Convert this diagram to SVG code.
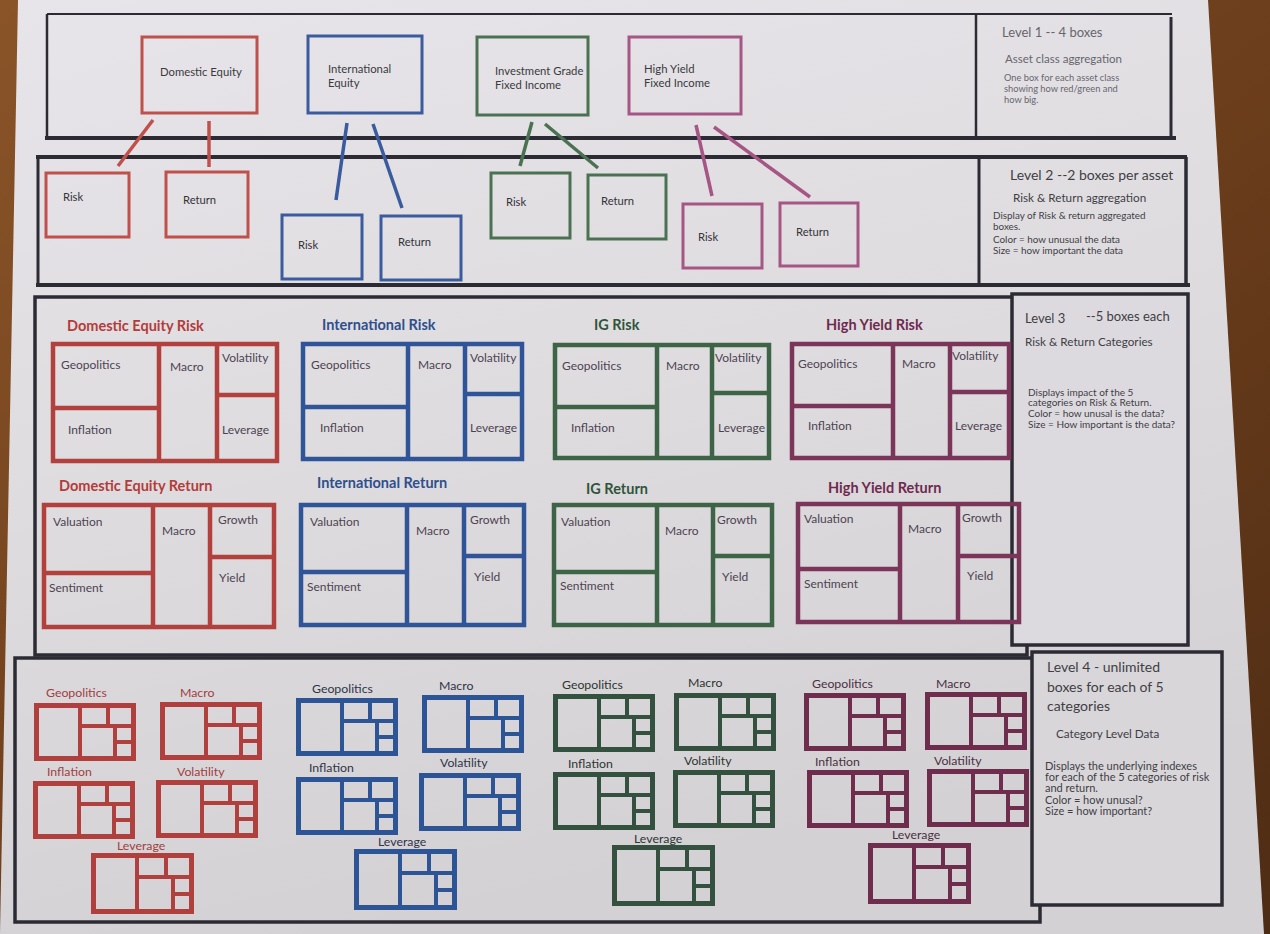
<svg xmlns="http://www.w3.org/2000/svg" xmlns:xlink="http://www.w3.org/1999/xlink" width="1270" height="934" viewBox="0 0 1270 934">
  <defs>
    <linearGradient id="wood" x1="0" y1="0" x2="1" y2="1">
      <stop offset="0" stop-color="#8a5428"/>
      <stop offset="0.5" stop-color="#6e3f1c"/>
      <stop offset="1" stop-color="#4e2c14"/>
    </linearGradient>
    <linearGradient id="paper" x1="0" y1="0" x2="0.3" y2="1">
      <stop offset="0" stop-color="#e7e5e9"/>
      <stop offset="0.5" stop-color="#dfdce0"/>
      <stop offset="1" stop-color="#d4d1d5"/>
    </linearGradient>
    <!-- small treemap used for every level-4 category tile; colour comes from currentColor -->
    <g id="mini" fill="none" stroke="currentColor">
      <rect x="2.5" y="2.5" width="97" height="53" stroke-width="5"/>
      <path d="M46 0V58M46 23H102M74 0V23M81 23V58M81 39H102" stroke-width="4"/>
    </g>
    <g id="miniL" fill="none" stroke="currentColor">
      <rect x="2.5" y="2.5" width="98" height="56" stroke-width="5"/>
      <path d="M46 0V61M46 24H103M75 0V24M82 24V61M82 41H103" stroke-width="4"/>
    </g>
  </defs>
  <style>
    text { font-family: Lato, "Open Sans", "Liberation Sans", sans-serif; }
    .frame { fill: none; stroke: #2c2b34; }
    .box { fill: none; stroke-width: 3; }
    .tm { fill: none; stroke-width: 4.5; }
    .r1 { stroke: #c0504c; } .b1 { stroke: #3a5c9e; } .g1 { stroke: #4a7252; } .p1 { stroke: #a65684; }
    .r3 { stroke: #b2413e; } .b3 { stroke: #2f5598; } .g3 { stroke: #3d6447; } .p3 { stroke: #7a3558; }
    .n1 { font-size: 11.3px; fill: #3a3a3e; }
    .n2 { font-size: 11.2px; fill: #333338; }
    .t3 { font-size: 14.5px; font-weight: bold; }
    .l3 { font-size: 12px; fill: #4c4350; }
    .l4 { font-size: 12.3px; }
    .side { fill: #3e3e44; }
    .faint { fill: #66666c; }
  </style>

  <!-- table top and sheet -->
  <rect x="0" y="0" width="1270" height="934" fill="url(#wood)"/>
  <polygon points="18,0 1208,0 1264,934 0,934" fill="url(#paper)"/>

  <!-- Level 1 band -->
  <g id="level1-band">
    <path class="frame" d="M47 14H1172" stroke-width="2" stroke="#55555c"/>
    <path class="frame" d="M47 14V138" stroke-width="2.5"/>
    <path class="frame" d="M45 138H1176" stroke-width="4"/>
    <path class="frame" d="M976 15V138" stroke-width="2.5"/>
    <path class="frame" d="M1171 17V138" stroke-width="3"/>
  </g>
  <g id="level1-legend">
    <text x="1002" y="37" font-size="13" class="faint">Level 1  -- 4 boxes</text>
    <text x="1005" y="63" font-size="11.5" class="faint">Asset class aggregation</text>
    <text x="1004" y="81" font-size="9.3" class="faint">One box for each asset class</text>
    <text x="1004" y="92" font-size="9.3" class="faint">showing how red/green and</text>
    <text x="1004" y="103" font-size="9.3" class="faint">how big.</text>
  </g>

  <!-- Level 2 band -->
  <g id="level2-band">
    <path class="frame" d="M36 157H1187" stroke-width="4"/>
    <path class="frame" d="M38 157V286" stroke-width="3"/>
    <path class="frame" d="M36 285H1190" stroke-width="4"/>
    <path class="frame" d="M979 157V285" stroke-width="3"/>
    <path class="frame" d="M1186 157V285" stroke-width="3.5"/>
  </g>
  <g id="level2-legend">
    <text x="1010" y="180" font-size="14" class="side">Level 2   --2 boxes per asset</text>
    <text x="1013" y="202" font-size="11.7" class="side">Risk &amp; Return aggregation</text>
    <text x="993" y="219" font-size="9.9" class="side">Display of Risk &amp; return aggregated</text>
    <text x="993" y="230" font-size="9.9" class="side">boxes.</text>
    <text x="993" y="243" font-size="9.9" class="side">Color = how unusual the data</text>
    <text x="993" y="254" font-size="9.9" class="side">Size = how important the data</text>
  </g>

  <!-- Level 1 asset-class boxes -->
  <g id="l1-domestic-equity">
    <rect class="box r1" x="142" y="37" width="115" height="76"/>
    <text class="n1" x="160" y="76">Domestic Equity</text>
  </g>
  <g id="l1-international-equity">
    <rect class="box b1" x="308" y="36" width="114" height="77"/>
    <text class="n1" x="328" y="73">International</text>
    <text class="n1" x="328" y="87">Equity</text>
  </g>
  <g id="l1-ig-fixed-income">
    <rect class="box g1" x="477" y="37" width="111" height="78"/>
    <text class="n1" x="495" y="75">Investment Grade</text>
    <text class="n1" x="495" y="89">Fixed Income</text>
  </g>
  <g id="l1-hy-fixed-income">
    <rect class="box p1" x="629" y="37" width="112" height="77"/>
    <text class="n1" x="644" y="73">High Yield</text>
    <text class="n1" x="644" y="87">Fixed Income</text>
  </g>

  <!-- Level 2 risk / return boxes -->
  <g id="l2-de-risk"><rect class="box r1" x="46" y="173" width="83" height="64"/><text class="n2" x="63" y="201">Risk</text></g>
  <g id="l2-de-return"><rect class="box r1" x="166" y="172" width="82" height="65"/><text class="n2" x="183" y="204">Return</text></g>
  <g id="l2-intl-risk"><rect class="box b1" x="282" y="215" width="80" height="64"/><text class="n2" x="298" y="249">Risk</text></g>
  <g id="l2-intl-return"><rect class="box b1" x="381" y="216" width="80" height="64"/><text class="n2" x="398" y="246">Return</text></g>
  <g id="l2-ig-risk"><rect class="box g1" x="491" y="173" width="79" height="65"/><text class="n2" x="506" y="206">Risk</text></g>
  <g id="l2-ig-return"><rect class="box g1" x="588" y="175" width="78" height="64"/><text class="n2" x="601" y="205">Return</text></g>
  <g id="l2-hy-risk"><rect class="box p1" x="683" y="204" width="79" height="64"/><text class="n2" x="698" y="241">Risk</text></g>
  <g id="l2-hy-return"><rect class="box p1" x="780" y="203" width="78" height="63"/><text class="n2" x="796" y="236">Return</text></g>

  <!-- links from each asset class down to its risk and return boxes -->
  <g id="connectors" fill="none" stroke-width="3.5" stroke-linecap="butt">
    <path class="r1" d="M153 120L118 166"/>
    <path class="r1" d="M209 121V167"/>
    <path class="b1" d="M347 123L336 200"/>
    <path class="b1" d="M373 124L402 208"/>
    <path class="g1" d="M532 122L520 166"/>
    <path class="g1" d="M545 124L598 168"/>
    <path class="p1" d="M696 125L712 196"/>
    <path class="p1" d="M714 127L810 197"/>
  </g>

  <!-- Level 3 band -->
  <g id="level3-band">
    <rect class="frame" x="35" y="297" width="992" height="358" stroke-width="3.5"/>
  </g>
  <g id="level3-legend">
    <rect x="1012" y="294" width="176" height="351" fill="#dddadf" stroke="#2c2b34" stroke-width="3.5"/>
    <text x="1025" y="323" font-size="13" class="side">Level 3</text>
    <text x="1086" y="321" font-size="13" class="side">--5 boxes each</text>
    <text x="1025" y="346" font-size="11.7" class="side">Risk &amp; Return Categories</text>
    <text x="1028" y="396" font-size="10" class="side">Displays impact of the 5</text>
    <text x="1028" y="406" font-size="10" class="side">categories on Risk &amp; Return.</text>
    <text x="1028" y="417" font-size="10" class="side">Color = how unusal is the data?</text>
    <text x="1028" y="428" font-size="10" class="side">Size = How important is the data?</text>
  </g>

  <!-- Level 3 treemaps: risk row -->
  <g id="l3-de-risk">
    <text class="t3" x="67" y="331" fill="#b23c3a">Domestic Equity Risk</text>
    <rect class="tm r3" x="53" y="344" width="224" height="117"/>
    <path class="tm r3" d="M159 344V461M53 408H159M217 344V461M217 395H277"/>
    <text class="l3" x="61" y="369">Geopolitics</text><text class="l3" x="170" y="371">Macro</text>
    <text class="l3" x="222" y="362">Volatility</text><text class="l3" x="68" y="434">Inflation</text>
    <text class="l3" x="222" y="434">Leverage</text>
  </g>
  <g id="l3-intl-risk">
    <text class="t3" x="322" y="330" fill="#2f4f8c">International Risk</text>
    <rect class="tm b3" x="303" y="344" width="219" height="115"/>
    <path class="tm b3" d="M408 344V459M303 407H408M465 344V459M465 394H522"/>
    <text class="l3" x="311" y="369">Geopolitics</text><text class="l3" x="418" y="369">Macro</text>
    <text class="l3" x="470" y="362">Volatility</text><text class="l3" x="320" y="432">Inflation</text>
    <text class="l3" x="470" y="432">Leverage</text>
  </g>
  <g id="l3-ig-risk">
    <text class="t3" x="594" y="330" fill="#30543a">IG Risk</text>
    <rect class="tm g3" x="555" y="345" width="214" height="113"/>
    <path class="tm g3" d="M657 345V458M555 407H657M712 345V458M712 393H769"/>
    <text class="l3" x="562" y="370">Geopolitics</text><text class="l3" x="666" y="370">Macro</text>
    <text class="l3" x="715" y="362">Volatility</text><text class="l3" x="571" y="432">Inflation</text>
    <text class="l3" x="718" y="432">Leverage</text>
  </g>
  <g id="l3-hy-risk">
    <text class="t3" x="826" y="330" fill="#6e2a4e">High Yield Risk</text>
    <rect class="tm p3" x="792" y="344" width="217" height="114"/>
    <path class="tm p3" d="M893 344V458M792 406H893M950 344V458M950 392H1009"/>
    <text class="l3" x="798" y="368">Geopolitics</text><text class="l3" x="902" y="368">Macro</text>
    <text class="l3" x="952" y="360">Volatility</text><text class="l3" x="808" y="430">Inflation</text>
    <text class="l3" x="955" y="430">Leverage</text>
  </g>

  <!-- Level 3 treemaps: return row -->
  <g id="l3-de-return">
    <text class="t3" x="59" y="491" fill="#b23c3a">Domestic Equity Return</text>
    <rect class="tm r3" x="44" y="505" width="230" height="122"/>
    <path class="tm r3" d="M153 505V627M44 573H153M210 505V627M210 557H274"/>
    <text class="l3" x="53" y="526">Valuation</text><text class="l3" x="162" y="535">Macro</text>
    <text class="l3" x="218" y="524">Growth</text><text class="l3" x="49" y="592">Sentiment</text>
    <text class="l3" x="219" y="582">Yield</text>
  </g>
  <g id="l3-intl-return">
    <text class="t3" x="317" y="488" fill="#2f4f8c">International Return</text>
    <rect class="tm b3" x="301" y="505" width="223" height="120"/>
    <path class="tm b3" d="M407 505V625M301 572H407M464 505V625M464 556H524"/>
    <text class="l3" x="310" y="526">Valuation</text><text class="l3" x="416" y="535">Macro</text>
    <text class="l3" x="470" y="524">Growth</text><text class="l3" x="307" y="591">Sentiment</text>
    <text class="l3" x="474" y="581">Yield</text>
  </g>
  <g id="l3-ig-return">
    <text class="t3" x="586" y="494" fill="#30543a">IG Return</text>
    <rect class="tm g3" x="554" y="505" width="218" height="120"/>
    <path class="tm g3" d="M657 505V625M554 572H657M713 505V625M713 556H772"/>
    <text class="l3" x="561" y="526">Valuation</text><text class="l3" x="665" y="535">Macro</text>
    <text class="l3" x="717" y="524">Growth</text><text class="l3" x="560" y="590">Sentiment</text>
    <text class="l3" x="722" y="581">Yield</text>
  </g>
  <g id="l3-hy-return">
    <text class="t3" x="828" y="493" fill="#6e2a4e">High Yield Return</text>
    <rect class="tm p3" x="798" y="504" width="221" height="118"/>
    <path class="tm p3" d="M900 504V622M798 569H900M958 504V622M958 556H1019"/>
    <text class="l3" x="804" y="523">Valuation</text><text class="l3" x="908" y="533">Macro</text>
    <text class="l3" x="962" y="522">Growth</text><text class="l3" x="804" y="588">Sentiment</text>
    <text class="l3" x="967" y="580">Yield</text>
  </g>

  <!-- Level 4 band -->
  <g id="level4-band">
    <rect class="frame" x="15" y="658" width="1025" height="264" stroke-width="3.5"/>
  </g>
  <g id="level4-legend">
    <rect x="1032" y="652" width="190" height="253" fill="#d9d6da" stroke="#2c2b34" stroke-width="3.5"/>
    <text x="1047" y="672" font-size="14" class="side">Level 4 - unlimited</text>
    <text x="1047" y="692" font-size="14" class="side">boxes for each of 5</text>
    <text x="1047" y="711" font-size="14" class="side">categories</text>
    <text x="1056" y="738" font-size="11.7" class="side">Category Level Data</text>
    <text x="1045" y="770" font-size="11" class="side">Displays the underlying indexes</text>
    <text x="1045" y="781" font-size="11" class="side">for each of the 5 categories of risk</text>
    <text x="1045" y="792" font-size="11" class="side">and return.</text>
    <text x="1045" y="804" font-size="11" class="side">Color = how unusal?</text>
    <text x="1045" y="815" font-size="11" class="side">Size = how important?</text>
  </g>

  <!-- Level 4 category tiles: domestic equity -->
  <g id="l4-de" style="color:#b0403e" fill="#a0403e">
    <g id="l4-de-geo"><text class="l4" x="46" y="697">Geopolitics</text><use href="#mini" x="34" y="703"/></g>
    <g id="l4-de-macro"><text class="l4" x="180" y="697">Macro</text><use href="#mini" x="160" y="702"/></g>
    <g id="l4-de-infl"><text class="l4" x="47" y="776">Inflation</text><use href="#mini" x="33" y="781"/></g>
    <g id="l4-de-vol"><text class="l4" x="177" y="776">Volatility</text><use href="#mini" x="156" y="780"/></g>
    <g id="l4-de-lev"><text class="l4" x="117" y="850">Leverage</text><use href="#miniL" x="91" y="853"/></g>
  </g>
  <!-- international -->
  <g id="l4-intl" style="color:#2d5595" fill="#2c3448">
    <g id="l4-intl-geo"><text class="l4" x="312" y="693">Geopolitics</text><use href="#mini" x="296" y="698"/></g>
    <g id="l4-intl-macro"><text class="l4" x="439" y="690">Macro</text><use href="#mini" x="422" y="695"/></g>
    <g id="l4-intl-infl"><text class="l4" x="309" y="772">Inflation</text><use href="#mini" x="296" y="777"/></g>
    <g id="l4-intl-vol"><text class="l4" x="440" y="767">Volatility</text><use href="#mini" x="419" y="773"/></g>
    <g id="l4-intl-lev"><text class="l4" x="378" y="846">Leverage</text><use href="#miniL" x="354" y="849"/></g>
  </g>
  <!-- investment grade -->
  <g id="l4-ig" style="color:#34503e" fill="#2c3530">
    <g id="l4-ig-geo"><text class="l4" x="562" y="689">Geopolitics</text><use href="#mini" x="553" y="694"/></g>
    <g id="l4-ig-macro"><text class="l4" x="688" y="687">Macro</text><use href="#mini" x="674" y="693"/></g>
    <g id="l4-ig-infl"><text class="l4" x="568" y="768">Inflation</text><use href="#mini" x="553" y="772"/></g>
    <g id="l4-ig-vol"><text class="l4" x="684" y="765">Volatility</text><use href="#mini" x="673" y="770"/></g>
    <g id="l4-ig-lev"><text class="l4" x="634" y="843">Leverage</text><use href="#miniL" x="612" y="845"/></g>
  </g>
  <!-- high yield -->
  <g id="l4-hy" style="color:#6e2d4c" fill="#4a3040">
    <g id="l4-hy-geo"><text class="l4" x="812" y="688">Geopolitics</text><use href="#mini" x="804" y="693"/></g>
    <g id="l4-hy-macro"><text class="l4" x="936" y="688">Macro</text><use href="#mini" x="925" y="692"/></g>
    <g id="l4-hy-infl"><text class="l4" x="815" y="766">Inflation</text><use href="#mini" x="807" y="770"/></g>
    <g id="l4-hy-vol"><text class="l4" x="934" y="765">Volatility</text><use href="#mini" x="927" y="769"/></g>
    <g id="l4-hy-lev"><text class="l4" x="892" y="839">Leverage</text><use href="#miniL" x="868" y="843"/></g>
  </g>
</svg>
